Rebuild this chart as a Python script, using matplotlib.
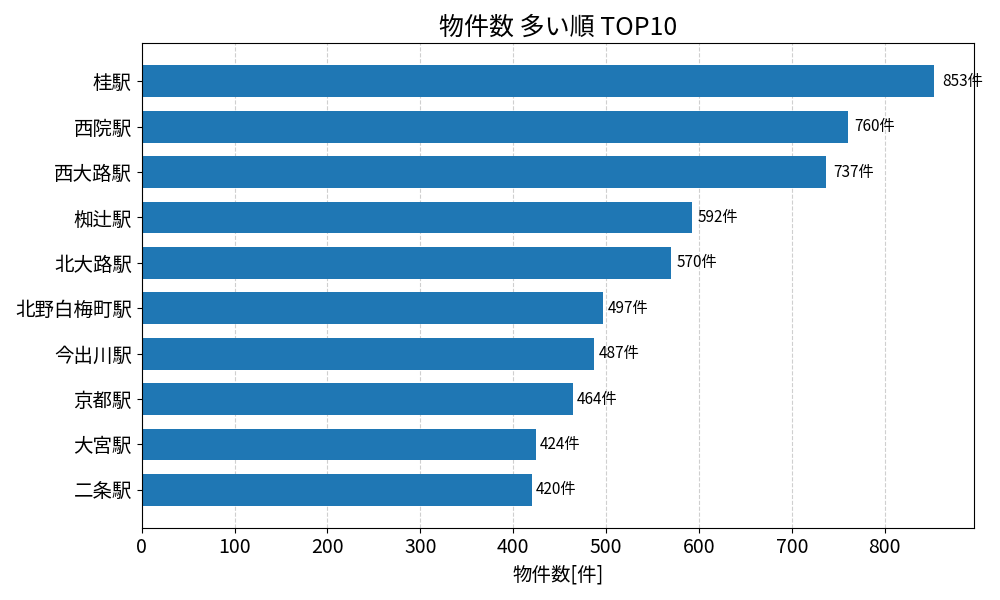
import matplotlib
matplotlib.use("Agg")
import matplotlib.pyplot as plt

plt.rcParams['font.family'] = ['Noto Sans CJK JP', 'DejaVu Sans']

stations = ["桂駅", "西院駅", "西大路駅", "椥辻駅", "北大路駅",
            "北野白梅町駅", "今出川駅", "京都駅", "大宮駅", "二条駅"]
counts = [853, 760, 737, 592, 570, 497, 487, 464, 424, 420]

fig, ax = plt.subplots(figsize=(10, 6), dpi=100)
ypos = list(range(len(stations)))
ax.barh(ypos, counts, height=0.7, color="#1f77b4", zorder=2)
ax.set_yticks(ypos)
ax.set_yticklabels(stations, fontsize=14)
ax.invert_yaxis()
ax.tick_params(axis='x', labelsize=14)
ax.grid(axis='x', linestyle='--', alpha=0.6, zorder=0)
ax.set_axisbelow(True)
for y, v in zip(ypos, counts):
    ax.text(v * 1.01, y, f"{v}件", va='center', ha='left', fontsize=11)
ax.set_xlabel("物件数[件]", fontsize=14)
ax.set_title("物件数 多い順 TOP10", fontsize=18)
fig.tight_layout()
fig.savefig("out.png")
